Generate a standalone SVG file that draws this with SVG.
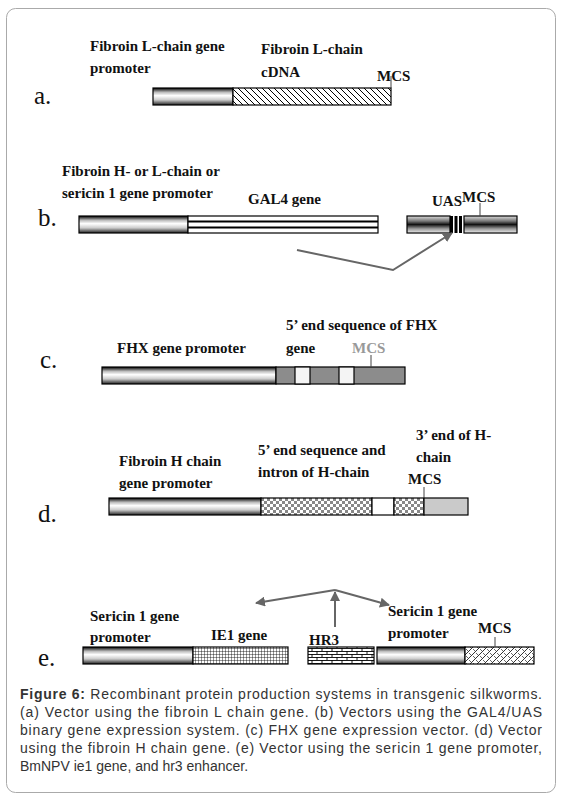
<svg xmlns="http://www.w3.org/2000/svg" width="562" height="801" viewBox="0 0 562 801">
<style>
.lb{font-family:"Liberation Serif",serif;font-weight:bold;font-size:15px;fill:#111}
.gl{font-family:"Liberation Serif",serif;font-weight:bold;font-size:15px;fill:#999}
.let{font-family:"Liberation Serif",serif;font-size:25px;fill:#111}
.cap{font-family:"Liberation Sans",Arial,sans-serif;font-size:14px;fill:#333}
.bar{stroke:#000;stroke-width:1.2}
.tick{stroke:#444;stroke-width:1}
.arr{stroke:#666;stroke-width:2;fill:none}
</style>
<defs>
<linearGradient id="prom" x1="0" y1="0" x2="0" y2="1">
<stop offset="0" stop-color="#000"/>
<stop offset="0.25" stop-color="#bbb"/>
<stop offset="0.45" stop-color="#fff"/>
<stop offset="0.7" stop-color="#ccc"/>
<stop offset="1" stop-color="#222"/>
</linearGradient>
<linearGradient id="prom2" x1="0" y1="0" x2="0" y2="1">
<stop offset="0" stop-color="#ddd"/>
<stop offset="0.3" stop-color="#777"/>
<stop offset="0.5" stop-color="#111"/>
<stop offset="0.75" stop-color="#999"/>
<stop offset="1" stop-color="#eee"/>
</linearGradient>
<pattern id="hatch" width="6" height="6" patternUnits="userSpaceOnUse">
<rect width="6" height="6" fill="#fff"/>
<path d="M-1,-1 L7,7 M-1,5 L1,7 M5,-1 L7,1" stroke="#000" stroke-width="1"/>
</pattern>
<pattern id="checker" width="6" height="6" patternUnits="userSpaceOnUse">
<rect width="6" height="6" fill="#888"/>
<rect x="0" y="0" width="3" height="3" fill="#fff"/>
<rect x="3" y="3" width="3" height="3" fill="#fff"/>
</pattern>
<pattern id="grid" width="3" height="3" patternUnits="userSpaceOnUse">
<rect width="3" height="3" fill="#fff"/>
<path d="M0,0 H3 M0,0 V3" stroke="#000" stroke-width="0.8"/>
</pattern>
<pattern id="brick" width="10" height="6" patternUnits="userSpaceOnUse">
<rect width="10" height="6" fill="#fff"/>
<path d="M0,0.5 H10 M0,3.5 H10 M2,0 V3 M7,3 V6" stroke="#000" stroke-width="0.9"/>
</pattern>
<pattern id="cross" width="7" height="7" patternUnits="userSpaceOnUse">
<rect width="7" height="7" fill="#fff"/>
<path d="M-1,8 L8,-1 M-1,1 L1,-1 M6,8 L8,6" stroke="#000" stroke-width="0.8"/>
<path d="M0,2 L2,4 M4,5 L6,7" stroke="#000" stroke-width="0.6"/>
</pattern>
<marker id="ah" viewBox="0 0 10 10" refX="9" refY="5" markerWidth="5" markerHeight="5" orient="auto">
<path d="M0,0 L10,5 L0,10 z" fill="#666"/>
</marker>
</defs>
<rect x="6.5" y="8.5" width="549" height="784" rx="9" fill="#fff" stroke="#aaa" stroke-width="1"/>

<g id="vector-a">
<text class="let" x="34" y="104">a.</text>
<text class="lb" x="90" y="51">Fibroin L-chain gene</text>
<text class="lb" x="90" y="73">promoter</text>
<text class="lb" x="261" y="54">Fibroin L-chain</text>
<text class="lb" x="261" y="77">cDNA</text>
<text class="lb" x="377" y="81">MCS</text>
<rect class="bar" x="153" y="88" width="80" height="17" fill="url(#prom)"/>
<rect class="bar" x="233" y="88" width="158" height="17" fill="url(#hatch)"/>
<line class="tick" x1="391" y1="76" x2="391" y2="88"/>
</g>

<g id="vector-b">
<text class="let" x="38" y="226">b.</text>
<text class="lb" x="62" y="176">Fibroin H- or L-chain or</text>
<text class="lb" x="62" y="198">sericin 1 gene promoter</text>
<text class="lb" x="248" y="204">GAL4 gene</text>
<text class="lb" x="432" y="206">UAS</text>
<text class="lb" x="462" y="202">MCS</text>
<rect class="bar" x="79" y="216" width="109" height="17" fill="url(#prom)"/>
<rect class="bar" x="188" y="216" width="190" height="17" fill="#fff"/>
<line x1="188" y1="221.5" x2="378" y2="221.5" stroke="#000" stroke-width="2"/>
<line x1="188" y1="227.5" x2="378" y2="227.5" stroke="#000" stroke-width="2"/>
<rect class="bar" x="407" y="216" width="43" height="17" fill="url(#prom2)"/>
<rect x="450" y="216" width="3" height="17" fill="#000"/>
<rect x="454.5" y="216" width="3" height="17" fill="#000"/>
<rect x="459" y="216" width="3" height="17" fill="#000"/>
<rect class="bar" x="464" y="216" width="53" height="17" fill="url(#prom2)"/>
<line class="tick" x1="480" y1="203" x2="480" y2="216"/>
</g>

<g id="vector-c">
<text class="let" x="40" y="368">c.</text>
<text class="lb" x="286" y="330">5’ end sequence of FHX</text>
<text class="lb" x="117" y="353">FHX gene promoter</text>
<text class="lb" x="286" y="353">gene</text>
<text class="gl" x="352" y="353">MCS</text>
<rect class="bar" x="102" y="367" width="174" height="17" fill="url(#prom)"/>
<rect x="276" y="367" width="129" height="17" fill="#8c8c8c" stroke="#000" stroke-width="1.2"/>
<rect class="bar" x="295" y="367" width="15" height="17" fill="#f4f4f4"/>
<rect class="bar" x="339" y="367" width="15" height="17" fill="#f4f4f4"/>
<line class="tick" x1="371" y1="355" x2="371" y2="367"/>
</g>

<g id="vector-d">
<text class="let" x="38" y="522">d.</text>
<text class="lb" x="416" y="440">3’ end of H-</text>
<text class="lb" x="416" y="462">chain</text>
<text class="lb" x="119" y="466">Fibroin H chain</text>
<text class="lb" x="119" y="488">gene promoter</text>
<text class="lb" x="258" y="455">5’ end sequence and</text>
<text class="lb" x="258" y="477">intron of H-chain</text>
<text class="lb" x="408" y="484">MCS</text>
<rect class="bar" x="109" y="498" width="152" height="17" fill="url(#prom)"/>
<rect class="bar" x="261" y="498" width="111" height="17" fill="url(#checker)"/>
<rect class="bar" x="372" y="498" width="22" height="17" fill="#fff"/>
<rect class="bar" x="394" y="498" width="30" height="17" fill="url(#checker)"/>
<rect class="bar" x="424" y="498" width="44" height="17" fill="#cacaca"/>
<line class="tick" x1="424" y1="487" x2="424" y2="498"/>
</g>

<g id="vector-e">
<text class="let" x="38" y="666">e.</text>
<text class="lb" x="90" y="621">Sericin 1 gene</text>
<text class="lb" x="90" y="642">promoter</text>
<text class="lb" x="211" y="640">IE1 gene</text>
<text class="lb" x="309" y="645">HR3</text>
<text class="lb" x="388" y="616">Sericin 1 gene</text>
<text class="lb" x="388" y="638">promoter</text>
<text class="lb" x="478" y="633">MCS</text>
<rect class="bar" x="83" y="647" width="110" height="17" fill="url(#prom)"/>
<rect class="bar" x="193" y="647" width="95" height="17" fill="url(#grid)"/>
<rect class="bar" x="308" y="647" width="66" height="17" fill="url(#brick)"/>
<rect class="bar" x="377" y="647" width="88" height="17" fill="url(#prom)"/>
<rect class="bar" x="465" y="647" width="69" height="17" fill="url(#cross)"/>
<line class="tick" x1="495" y1="637" x2="495" y2="647"/>
</g>

<g id="connectors">
<polyline class="arr" points="297,250 393,270 452,233" marker-end="url(#ah)"/>
<line class="arr" x1="335" y1="627" x2="335" y2="592" marker-end="url(#ah)"/>
<line class="arr" x1="335" y1="590" x2="256" y2="603" marker-end="url(#ah)"/>
<line class="arr" x1="335" y1="590" x2="389" y2="605" marker-end="url(#ah)"/>
</g>

<g id="caption">
<text class="cap" x="20" y="699" textLength="522" lengthAdjust="spacing"><tspan font-weight="bold">Figure 6:</tspan> Recombinant protein production systems in transgenic silkworms.</text>
<text class="cap" x="20" y="717" textLength="522" lengthAdjust="spacing">(a) Vector using the fibroin L chain gene. (b) Vectors using the GAL4/UAS</text>
<text class="cap" x="20" y="735" textLength="522" lengthAdjust="spacing">binary gene expression system. (c) FHX gene expression vector. (d) Vector</text>
<text class="cap" x="20" y="753" textLength="522" lengthAdjust="spacing">using the fibroin H chain gene. (e) Vector using the sericin 1 gene promoter,</text>
<text class="cap" x="20" y="771">BmNPV ie1 gene, and hr3 enhancer.</text>
</g>
</svg>
